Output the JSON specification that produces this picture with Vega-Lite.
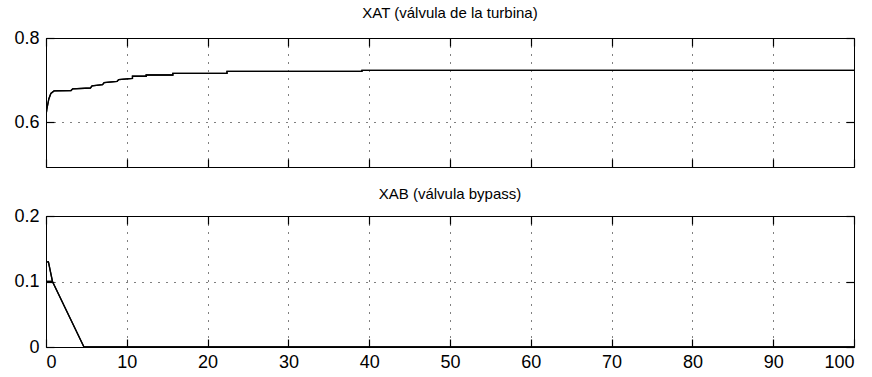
{
  "$schema": "https://vega.github.io/schema/vega-lite/v6.json",
  "background": "white",
  "padding": {"left": 5, "top": 5, "right": 5, "bottom": 5},
  "config": {
    "view": {"stroke": "black", "strokeWidth": 1},
    "font": "Liberation Sans",
    "axis": {
      "domain": false,
      "labelFont": "Liberation Sans",
      "labelFontSize": 18,
      "labelColor": "black",
      "gridColor": "black",
      "gridDash": [1, 7],
      "gridOpacity": 1,
      "gridWidth": 1,
      "title": null
    },
    "title": {"font": "Liberation Sans", "fontSize": 15, "fontWeight": "normal", "color": "black", "anchor": "middle"}
  },
  "datasets": {
    "xat": [
      {"t": 0, "v": 0.615}, {"t": 0.1, "v": 0.63}, {"t": 0.35, "v": 0.655}, {"t": 0.6, "v": 0.668},
      {"t": 1.0, "v": 0.674}, {"t": 3.1, "v": 0.675}, {"t": 3.3, "v": 0.679}, {"t": 5.5, "v": 0.681},
      {"t": 5.7, "v": 0.686}, {"t": 7, "v": 0.689}, {"t": 7.2, "v": 0.694}, {"t": 8.8, "v": 0.697},
      {"t": 9, "v": 0.701}, {"t": 10.7, "v": 0.704}, {"t": 10.7, "v": 0.709}, {"t": 12.4, "v": 0.709},
      {"t": 12.4, "v": 0.712}, {"t": 15.7, "v": 0.712}, {"t": 15.7, "v": 0.716}, {"t": 22.4, "v": 0.716},
      {"t": 22.4, "v": 0.7205}, {"t": 39.1, "v": 0.7205}, {"t": 39.1, "v": 0.723}, {"t": 100, "v": 0.723}
    ],
    "xab": [
      {"i": 0, "t": 0.8, "v": 0.1}, {"i": 1, "t": 0, "v": 0.1}, {"i": 2, "t": 0, "v": 0.13},
      {"i": 3, "t": 0.3, "v": 0.13}, {"i": 4, "t": 0.8, "v": 0.1}, {"i": 5, "t": 4.7, "v": 0},
      {"i": 6, "t": 100, "v": 0}
    ]
  },
  "vconcat": [
    {
      "width": 808,
      "height": 129,
      "title": {"text": "XAT (válvula de la turbina)", "offset": 8},
      "data": {"name": "xat"},
      "layer": [
        {
          "mark": {"type": "line", "color": "black", "strokeWidth": 1.3, "clip": true},
          "encoding": {
            "x": {"field": "t", "type": "quantitative", "scale": {"domain": [0, 100], "nice": false},
                  "axis": {"values": [0,10,20,30,40,50,60,70,80,90,100], "labels": false, "orient": "bottom", "ticks": true, "tickSize": 8, "offset": -8, "tickColor": "black", "tickWidth": 1.2, "minExtent": 0, "maxExtent": 0}},
            "y": {"field": "v", "type": "quantitative", "scale": {"domain": [0.493, 0.8], "nice": false, "zero": false},
                  "axis": {"values": [0.6, 0.8], "format": ".1f", "orient": "left", "ticks": true, "tickSize": 8, "offset": -8, "tickColor": "black", "tickWidth": 1.2, "labelPadding": 7, "minExtent": 48, "maxExtent": 48}}
          }
        },
        {
          "mark": {"type": "line", "color": "black", "strokeWidth": 1.3, "clip": true},
          "encoding": {
            "x": {"field": "t", "type": "quantitative", "scale": {"domain": [0, 100], "nice": false},
                  "axis": {"values": [0,10,20,30,40,50,60,70,80,90,100], "labels": false, "grid": false, "orient": "top", "ticks": true, "tickSize": 8, "offset": -8, "tickColor": "black", "tickWidth": 1.2, "minExtent": 0, "maxExtent": 0}},
            "y": {"field": "v", "type": "quantitative", "scale": {"domain": [0.493, 0.8], "nice": false, "zero": false},
                  "axis": {"values": [0.6, 0.8], "labels": false, "grid": false, "orient": "right", "ticks": true, "tickSize": 8, "offset": -8, "tickColor": "black", "tickWidth": 1.2, "minExtent": 0, "maxExtent": 0}}
          }
        }
      ],
      "resolve": {"axis": {"x": "independent", "y": "independent"}}
    },
    {
      "width": 808,
      "height": 131,
      "title": {"text": "XAB (válvula bypass)", "offset": 5},
      "data": {"name": "xab"},
      "layer": [
        {
          "mark": {"type": "line", "color": "black", "strokeWidth": 1.3, "clip": true},
          "encoding": {
            "order": {"field": "i", "type": "quantitative"},
            "x": {"field": "t", "type": "quantitative", "scale": {"domain": [0, 100], "nice": false},
                  "axis": {"values": [0,10,20,30,40,50,60,70,80,90,100], "format": "d", "orient": "bottom", "ticks": true, "tickSize": 8, "offset": -8, "tickColor": "black", "tickWidth": 1.2, "labelPadding": 6}},
            "y": {"field": "v", "type": "quantitative", "scale": {"domain": [0, 0.2], "nice": false},
                  "axis": {"values": [0, 0.1, 0.2], "format": "~g", "orient": "left", "ticks": true, "tickSize": 8, "offset": -8, "tickColor": "black", "tickWidth": 1.2, "labelPadding": 7, "minExtent": 48, "maxExtent": 48}}
          }
        },
        {
          "mark": {"type": "line", "color": "black", "strokeWidth": 1.3, "clip": true},
          "encoding": {
            "order": {"field": "i", "type": "quantitative"},
            "x": {"field": "t", "type": "quantitative", "scale": {"domain": [0, 100], "nice": false},
                  "axis": {"values": [0,10,20,30,40,50,60,70,80,90,100], "labels": false, "grid": false, "orient": "top", "ticks": true, "tickSize": 8, "offset": -8, "tickColor": "black", "tickWidth": 1.2, "minExtent": 0, "maxExtent": 0}},
            "y": {"field": "v", "type": "quantitative", "scale": {"domain": [0, 0.2], "nice": false},
                  "axis": {"values": [0, 0.1, 0.2], "labels": false, "grid": false, "orient": "right", "ticks": true, "tickSize": 8, "offset": -8, "tickColor": "black", "tickWidth": 1.2, "minExtent": 0, "maxExtent": 0}}
          }
        }
      ],
      "resolve": {"axis": {"x": "independent", "y": "independent"}}
    }
  ],
  "spacing": 17
}
